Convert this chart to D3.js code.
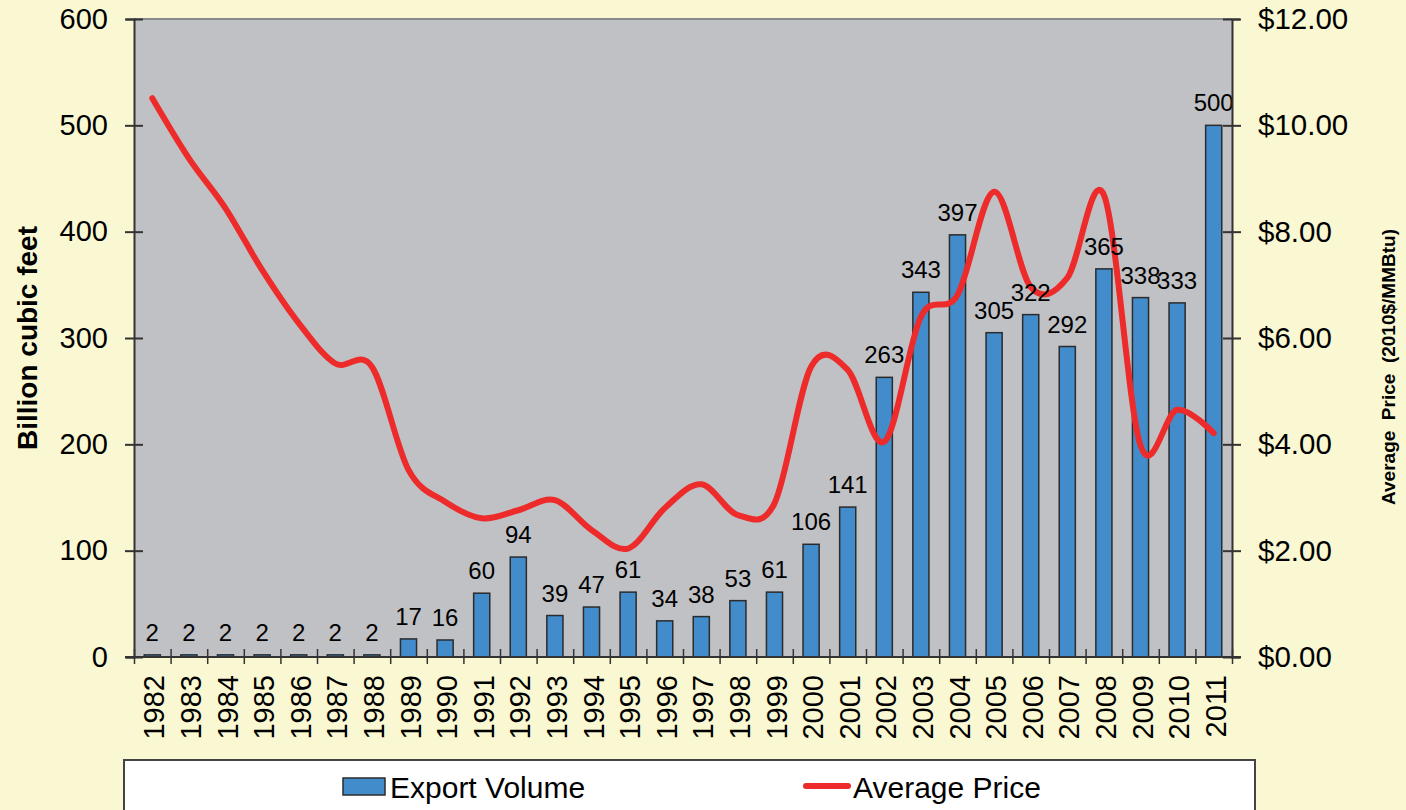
<!DOCTYPE html>
<html>
<head>
<meta charset="utf-8">
<script src="https://cdn.jsdelivr.net/npm/d3@7"></script>
<style>
  html, body { margin: 0; padding: 0; background: #faf8d2; }
  svg { display: block; }
  text { font-family: "Liberation Sans", Arial, sans-serif; fill: #000; }
</style>
</head>
<body>
<svg id="chart" width="1406" height="810"></svg>
<script>
// LNG export volume (billion cubic feet) and average price (2010$/MMBtu)
const years = ["1982","1983","1984","1985","1986","1987","1988","1989","1990","1991",
               "1992","1993","1994","1995","1996","1997","1998","1999","2000","2001",
               "2002","2003","2004","2005","2006","2007","2008","2009","2010","2011"];
const exportVolume = [2,2,2,2,2,2,2,17,16,60,94,39,47,61,34,38,53,61,106,141,
                      263,343,397,305,322,292,365,338,333,500];
const averagePrice = [10.51,9.38,8.44,7.28,6.28,5.52,5.46,3.52,2.92,2.61,
                      2.76,2.95,2.39,2.04,2.80,3.25,2.67,2.89,5.46,5.40,
                      4.05,6.40,6.81,8.75,6.96,7.13,8.69,3.98,4.65,4.21];
const volumeTicks = [0,100,200,300,400,500,600];
const priceTicks = [0,2,4,6,8,10,12];
const seriesNames = ["Export Volume", "Average Price"];
const leftTitle = "Billion cubic feet";
const rightTitle = "Average\u00a0 Price\u00a0 (2010$/MMBtu)";

const svg = d3.select("#chart");
const plot = { left: 134, right: 1232, top: 19, bottom: 657 };

const x = d3.scaleBand().domain(years).range([plot.left, plot.right]).padding(0);
const xEdge = d3.scaleLinear().domain([0, years.length]).range([plot.left, plot.right]);
const yVol = d3.scaleLinear().domain([0, 600]).range([plot.bottom, plot.top]);
const yPrice = d3.scaleLinear().domain([0, 12]).range([plot.bottom, plot.top]);

// plot background
svg.append("rect")
  .attr("x", plot.left).attr("y", plot.top)
  .attr("width", plot.right - plot.left).attr("height", plot.bottom - plot.top)
  .attr("fill", "#c0c1c5");
svg.append("line")
  .attr("x1", plot.left).attr("x2", plot.right)
  .attr("y1", plot.top).attr("y2", plot.top)
  .attr("stroke", "#8a8a8e").attr("stroke-width", 2);

// bars
const barW = x.bandwidth() * 0.44;
svg.append("g").selectAll("rect")
  .data(years)
  .join("rect")
  .attr("x", (d) => x(d) + (x.bandwidth() - barW) / 2)
  .attr("y", (d, i) => yVol(exportVolume[i]))
  .attr("width", barW)
  .attr("height", (d, i) => yVol(0) - yVol(exportVolume[i]))
  .attr("fill", "#438ccb")
  .attr("stroke", "#2b2b2b")
  .attr("stroke-width", 1.5);

// price line
const line = d3.line()
  .x((d, i) => x(years[i]) + x.bandwidth() / 2)
  .y((d) => yPrice(d))
  .curve(d3.curveCardinal.tension(0));
svg.append("path")
  .datum(averagePrice)
  .attr("d", line)
  .attr("fill", "none")
  .attr("stroke", "#ee2b2b")
  .attr("stroke-width", 6)
  .attr("stroke-linecap", "round")
  .attr("stroke-linejoin", "round");

// value labels
svg.append("g").selectAll("text")
  .data(years)
  .join("text")
  .attr("x", (d) => x(d) + x.bandwidth() / 2)
  .attr("y", (d, i) => yVol(exportVolume[i]) - 14)
  .attr("text-anchor", "middle")
  .attr("font-size", 24)
  .text((d, i) => exportVolume[i]);

// left axis
const axL = svg.append("g")
  .attr("transform", `translate(${plot.left},0)`)
  .call(d3.axisLeft(yVol).tickValues(volumeTicks).tickSize(8).tickPadding(18));
axL.select(".domain").attr("stroke", "#333").attr("stroke-width", 2);
axL.selectAll(".tick line").attr("x1", -9).attr("x2", 9).attr("stroke", "#333").attr("stroke-width", 2);
axL.selectAll(".tick text").attr("font-size", 29).attr("font-family", "Liberation Sans, Arial, sans-serif").attr("fill", "#000");

// right axis
const axR = svg.append("g")
  .attr("transform", `translate(${plot.right},0)`)
  .call(d3.axisRight(yPrice).tickValues(priceTicks).tickSize(8).tickPadding(18).tickFormat(d3.format("$.2f")));
axR.select(".domain").attr("stroke", "#333").attr("stroke-width", 2);
axR.selectAll(".tick line").attr("x1", -9).attr("x2", 9).attr("stroke", "#333").attr("stroke-width", 2);
axR.selectAll(".tick text").attr("font-size", 29.5).attr("font-family", "Liberation Sans, Arial, sans-serif").attr("fill", "#000");

// bottom axis: boundary ticks
const axB = svg.append("g")
  .attr("transform", `translate(0,${plot.bottom})`)
  .call(d3.axisBottom(xEdge).tickValues(d3.range(0, years.length + 1)).tickSize(8).tickFormat(""));
axB.select(".domain").attr("stroke", "#333").attr("stroke-width", 2)
  .attr("d", `M${plot.left - 9},0H${plot.right + 9}`);
axB.selectAll(".tick line").attr("y1", -8).attr("y2", 7).attr("stroke", "#333").attr("stroke-width", 1.5);

// year labels
const axYears = svg.append("g")
  .attr("transform", `translate(0,${plot.bottom})`)
  .call(d3.axisBottom(x).tickSize(0).tickPadding(0));
axYears.select(".domain").remove();
axYears.selectAll(".tick text")
  .attr("font-size", 29)
  .attr("font-family", "Liberation Sans, Arial, sans-serif")
  .attr("fill", "#000")
  .attr("transform", "rotate(-90)")
  .attr("text-anchor", "end")
  .attr("x", -18)
  .attr("y", 2)
  .attr("dy", "0.35em");

// axis titles
svg.append("text")
  .attr("transform", `translate(37,${(plot.top + plot.bottom) / 2}) rotate(-90)`)
  .attr("text-anchor", "middle")
  .attr("font-size", 28)
  .attr("font-weight", "bold")
  .text(leftTitle);
svg.append("text")
  .attr("transform", `translate(1395,${(plot.top + plot.bottom) / 2 + 29}) rotate(-90)`)
  .attr("text-anchor", "middle")
  .attr("font-size", 19)
  .attr("font-weight", "bold")
  .text(rightTitle);

// legend
const legend = svg.append("g");
legend.append("rect")
  .attr("x", 124).attr("y", 760).attr("width", 1131).attr("height", 70)
  .attr("fill", "#fff").attr("stroke", "#444").attr("stroke-width", 2);
legend.append("rect")
  .attr("x", 343).attr("y", 778).attr("width", 42).attr("height", 17)
  .attr("fill", "#438ccb").attr("stroke", "#2b2b2b").attr("stroke-width", 1.5);
legend.append("text")
  .attr("x", 390).attr("y", 798).attr("font-size", 30).text(seriesNames[0]);
legend.append("line")
  .attr("x1", 806).attr("x2", 848).attr("y1", 786).attr("y2", 786)
  .attr("stroke", "#ee2b2b").attr("stroke-width", 6).attr("stroke-linecap", "round");
legend.append("text")
  .attr("x", 853).attr("y", 798).attr("font-size", 30).text(seriesNames[1]);
</script>
</body>
</html>
